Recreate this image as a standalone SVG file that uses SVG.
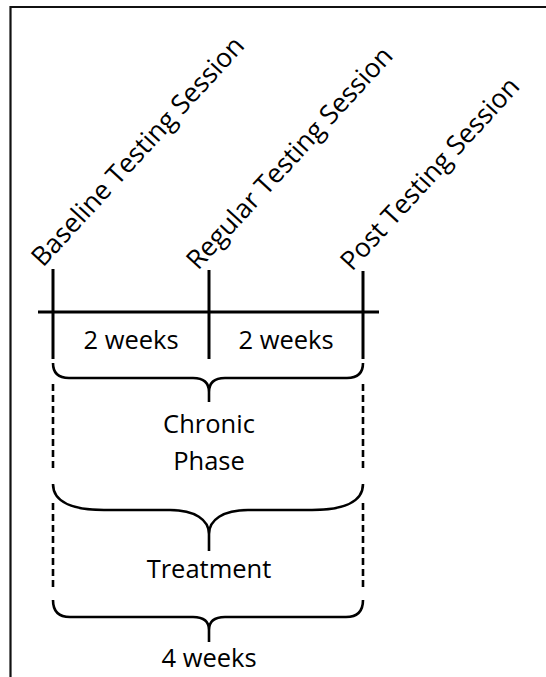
<svg xmlns="http://www.w3.org/2000/svg" width="546" height="677" viewBox="0 0 546 677">
<style>
.ln{stroke:#000;stroke-width:3;fill:none}
.br{stroke:#000;stroke-width:2.6;fill:none;stroke-linejoin:round}
.ds{stroke:#000;stroke-width:2.6;fill:none;stroke-dasharray:7 4}
.t{font-family:"Open Sans","Noto Sans",sans-serif;font-size:25.5px;fill:#000;text-anchor:middle}
.rt{font-family:"Open Sans","Noto Sans",sans-serif;font-size:26.5px;fill:#000}
</style>
<rect width="546" height="677" fill="#fff"/>
<g id="frame">
<path d="M10.5,677 V7 H546" stroke="#111" stroke-width="2.2" fill="none"/>
</g>
<g id="labels">
<g id="baseline"><text class="rt" transform="translate(43,268) rotate(-47.5)">Baseline Testing Session</text></g>
<g id="regular"><text class="rt" transform="translate(198,271) rotate(-47.5)">Regular Testing Session</text></g>
<g id="post"><text class="rt" transform="translate(352,272) rotate(-47.5)">Post Testing Session</text></g>
</g>
<g id="connectors">
<line class="ln" x1="38" y1="312" x2="379" y2="312"/>
<line class="ln" x1="53" y1="269" x2="53" y2="359"/>
<line class="ln" x1="209" y1="270" x2="209" y2="359"/>
<line class="ln" x1="363" y1="271" x2="363" y2="359"/>
<path class="br" d="M53,363 Q53,378 69,378 H193 Q209,378 209,392 V402 M363,363 Q363,378 347,378 H225 Q209,378 209,392"/>
<line class="ds" x1="53" y1="384" x2="53" y2="471"/>
<line class="ds" x1="363" y1="384" x2="363" y2="471"/>
<path class="br" d="M53,484 C53,503 75,510 104,510 H170 C195,510 209,520 209,534 V551 M363,484 C363,503 341,510 312,510 H248 C223,510 209,520 209,534"/>
<line class="ds" x1="53" y1="503" x2="53" y2="591"/>
<line class="ds" x1="363" y1="503" x2="363" y2="591"/>
<path class="br" d="M53,600 Q53,617 70,617 H193 Q209,617 209,630 V642 M363,600 Q363,617 346,617 H225 Q209,617 209,630"/>
</g>
<g id="periods">
<g id="w1"><text class="t" x="131" y="349">2 weeks</text></g>
<g id="w2"><text class="t" x="286" y="349">2 weeks</text></g>
<g id="chronic"><text class="t" x="209" y="433">Chronic</text><text class="t" x="209" y="470">Phase</text></g>
<g id="treatment"><text class="t" x="209" y="578">Treatment</text></g>
<g id="total"><text class="t" x="209" y="667">4 weeks</text></g>
</g>
</svg>
